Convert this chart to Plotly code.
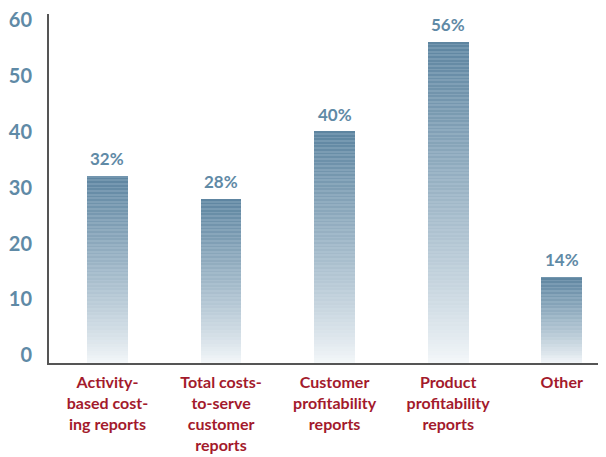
import plotly.graph_objects as go
import numpy as np

categories = ["Activity-<br>based cost-<br>ing reports",
              "Total costs-<br>to-serve<br>customer<br>reports",
              "Customer<br>profitability<br>reports",
              "Product<br>profitability<br>reports",
              "Other"]
values = [32, 28, 40, 56, 14]
value_labels = ["32%", "28%", "40%", "56%", "14%"]
y_ticks = [0, 10, 20, 30, 40, 50, 60]

Y_MIN, Y_MAX = -1.4, 61.1
SEG = 0.32
top_rgb = np.array([96, 136, 164])
bot_rgb = np.array([246, 249, 251])

xs, bases, heights, colors = [], [], [], []
for cat, v in zip(categories, values):
    edges = np.arange(Y_MIN, v, SEG)
    for i, b in enumerate(edges):
        h = min(SEG, v - b)
        t = (b + h / 2 - Y_MIN) / (v - Y_MIN)
        t = t ** 0.85
        c = bot_rgb + (top_rgb - bot_rgb) * t
        if i % 2 == 0:
            c = c + (255 - c) * 0.12 * t
        else:
            c = c * (1 - 0.02 * t)
        c = np.clip(c, 0, 255).astype(int)
        xs.append(cat)
        bases.append(b)
        heights.append(h)
        colors.append(f"rgb({c[0]},{c[1]},{c[2]})")

fig = go.Figure()
fig.add_trace(go.Bar(x=xs, y=heights, base=bases, width=0.36,
                     marker=dict(color=colors, line=dict(width=0)),
                     hoverinfo="skip", showlegend=False))

for cat, v, lab in zip(categories, values, value_labels):
    fig.add_annotation(x=cat, y=v, text=f"<b>{lab}</b>", showarrow=False,
                       yanchor="bottom", yshift=5,
                       font=dict(family="Lato", size=17, color="#5f8aa6"))

fig.update_layout(
    width=606, height=457,
    margin=dict(l=41, r=8, t=6, b=102),
    plot_bgcolor="white", paper_bgcolor="white",
    barmode="overlay", bargap=0,
    xaxis=dict(type="category", range=[-0.515, 4.39], showgrid=False,
               automargin=False,
               showline=True, linecolor="#555555", linewidth=2,
               ticks="", ticklabelstandoff=4,
               tickfont=dict(family="Lato", size=16, color="#a31a2c", weight="bold")),
    yaxis=dict(range=[Y_MIN, Y_MAX], showgrid=False, zeroline=False,
               automargin=False, ticklabeloverflow="allow",
               showline=True, linecolor="#555555", linewidth=2,
               tickvals=y_ticks, ticktext=[f"<b>{t}</b>" for t in y_ticks],
               ticks="", ticklabelstandoff=11,
               tickfont=dict(family="Lato", size=20, color="#5f8aa6")),
)

fig.write_html("out.html")
